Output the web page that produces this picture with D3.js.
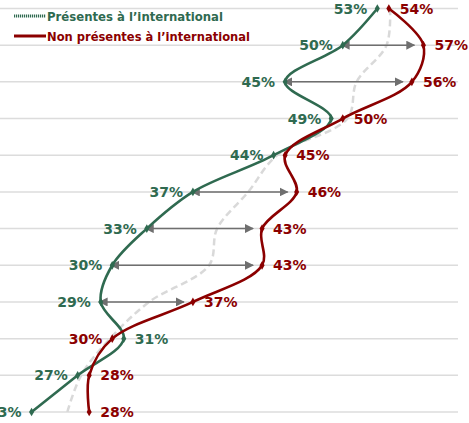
<!DOCTYPE html>
<html>
<head>
<meta charset="utf-8">
<script src="https://cdn.jsdelivr.net/npm/d3@7"></script>
<style>
  html, body { margin: 0; padding: 0; background: #fff; }
  svg { display: block; }
</style>
</head>
<body>
<svg id="chart" width="469" height="423"></svg>
<script>
// Row keys (one per horizontal band, top to bottom)
const rows = ["1", "2", "3", "4", "5", "6", "7", "8", "9", "10", "11", "12"];
// Share (%) for companies present abroad
const international = [53, 50, 45, 49, 44, 37, 33, 30, 29, 31, 27, 23];
// Share (%) for companies not present abroad
const domestic = [54, 57, 56, 50, 45, 46, 43, 43, 37, 30, 28, 28];
// Overall reference curve (%)
const overall = [54.1, 53.8, 51.2, 50.4, 44.3, 41.8, 39.1, 38.4, 33.2, 29.8, 27.3, 26.1];
// Rows where the gap between the two groups is highlighted
const gapRows = ["2", "3", "6", "7", "8", "9"];
const seriesNames = ["Présentes à l’international", "Non présentes à l’international"];

const GREEN = "#2f6a50";
const RED = "#8b0000";
const GREY_ARROW = "#6f6f6f";

const svg = d3.select("#chart");

const x = d3.scaleLinear().domain([20, 60]).range([-3, 458]);
const y = d3.scalePoint().domain(rows).range([8.5, 412]);

// Horizontal gridlines
svg.append("g")
  .selectAll("line")
  .data(rows)
  .join("line")
  .attr("x1", 0)
  .attr("x2", x(60))
  .attr("y1", d => y(d))
  .attr("y2", d => y(d))
  .attr("stroke", "#dcdcdc")
  .attr("stroke-width", 1.5);

const line = d3.line()
  .x(d => x(d.v))
  .y(d => y(d.r))
  .curve(d3.curveCatmullRom.alpha(0.5));

const toPts = vals => rows.map((r, i) => ({ r, v: vals[i] }));

// Overall curve (light dashed)
svg.append("path")
  .datum(toPts(overall))
  .attr("d", line)
  .attr("fill", "none")
  .attr("stroke", "#d9d9d9")
  .attr("stroke-width", 2.5)
  .attr("stroke-dasharray", "7,4");

// Arrow markers
const defs = svg.append("defs");
["start", "end"].forEach(k => {
  defs.append("marker")
    .attr("id", "arrow-" + k)
    .attr("viewBox", "0 0 10 10")
    .attr("refX", k === "end" ? 9 : 1)
    .attr("refY", 5)
    .attr("markerWidth", 9)
    .attr("markerHeight", 9)
    .attr("markerUnits", "userSpaceOnUse")
    .attr("orient", "auto-start-reverse")
    .append("path")
    .attr("d", "M0,0 L10,5 L0,10 Z")
    .attr("fill", GREY_ARROW);
});

svg.append("g")
  .selectAll("line")
  .data(gapRows)
  .join("line")
  .attr("x1", d => x(international[rows.indexOf(d)]) + 6)
  .attr("x2", d => x(domestic[rows.indexOf(d)]) - 9)
  .attr("y1", d => y(d))
  .attr("y2", d => y(d))
  .attr("stroke", GREY_ARROW)
  .attr("stroke-width", 1.5)
  .attr("marker-start", "url(#arrow-start)")
  .attr("marker-end", "url(#arrow-end)");

// Series lines
const series = [
  { name: seriesNames[0], vals: international, color: GREEN },
  { name: seriesNames[1], vals: domestic, color: RED }
];

series.forEach(s => {
  svg.append("path")
    .datum(toPts(s.vals))
    .attr("d", line)
    .attr("fill", "none")
    .attr("stroke", s.color)
    .attr("stroke-width", 2.6)
    .attr("stroke-linejoin", "round");
});

// Point markers
series.forEach(s => {
  svg.append("g")
    .selectAll("path")
    .data(toPts(s.vals))
    .join("path")
    .attr("transform", d => `translate(${x(d.v)},${y(d.r)})`)
    .attr("d", d3.symbol(d3.symbolDiamond, 22))
    .attr("fill", s.color);
});

// Value labels: the lower value of each row sits on the left, the higher on the right
const labels = [];
rows.forEach((r, i) => {
  const g = international[i], n = domestic[i];
  const gLeft = g <= n;
  labels.push({ r, v: g, color: GREEN, left: gLeft });
  labels.push({ r, v: n, color: RED, left: !gLeft });
});

svg.append("g")
  .selectAll("text")
  .data(labels)
  .join("text")
  .attr("x", d => d.left ? x(d.v) - 10 : x(d.v) + 11)
  .attr("y", d => y(d.r) + 5)
  .attr("text-anchor", d => d.left ? "end" : "start")
  .attr("fill", d => d.color)
  .attr("font-family", "'DejaVu Sans', Verdana, sans-serif")
  .attr("font-weight", "bold")
  .attr("font-size", 14)
  .text(d => d.v + "%");

// Legend
const legend = svg.append("g");
const legendItems = [
  { name: seriesNames[0], color: GREEN, y: 16, dash: "1.2,0.8", len: 176 },
  { name: seriesNames[1], color: RED, y: 36, dash: null, len: 203 }
];
legendItems.forEach(it => {
  legend.append("line")
    .attr("x1", 14).attr("x2", 46)
    .attr("y1", it.y).attr("y2", it.y)
    .attr("stroke", it.color)
    .attr("stroke-width", 3)
    .attr("stroke-dasharray", it.dash);
  legend.append("text")
    .attr("x", 47)
    .attr("y", it.y + 4.5)
    .attr("fill", it.color)
    .attr("font-family", "'DejaVu Sans', Verdana, sans-serif")
    .attr("font-weight", "bold")
    .attr("font-size", 12.3)
    .attr("textLength", it.len)
    .attr("lengthAdjust", "spacingAndGlyphs")
    .text(it.name);
});
</script>
</body>
</html>
